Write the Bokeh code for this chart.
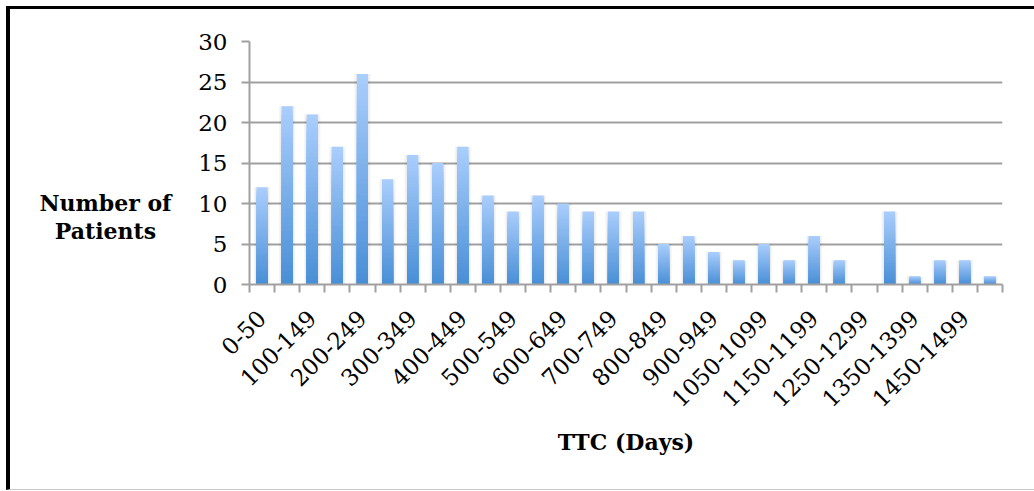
import math
from bokeh.plotting import figure
from bokeh.layouts import row
from bokeh.models import FixedTicker, ColumnDataSource
from bokeh.core.properties import value
from bokeh.embed import file_html
from bokeh.resources import INLINE

# ---- data ----
categories = ["0-50", "50-99", "100-149", "150-199", "200-249", "250-299",
              "300-349", "350-399", "400-449", "450-499", "500-549", "550-599",
              "600-649", "650-699", "700-749", "750-799", "800-849", "850-899",
              "900-949", "950-1049", "1050-1099", "1100-1149", "1150-1199",
              "1200-1249", "1250-1299", "1300-1349", "1350-1399", "1400-1449",
              "1450-1499", "1500+"]
patients = [12, 22, 21, 17, 26, 13, 16, 15, 17, 11, 9, 11, 10, 9, 9,
            9, 5, 6, 4, 3, 5, 3, 6, 3, 0, 9, 1, 3, 3, 1]
y_ticks = [0, 5, 10, 15, 20, 25, 30]
y_title = "Number of\nPatients"
x_title = "TTC (Days)"

n = len(categories)
centers = [i + 0.5 for i in range(n)]

# ---- style ----
SERIF = "DejaVu Serif"
GRID = "#a0a0a0"
TOP_RGB = (170, 206, 252)
BOT_RGB = (72, 142, 214)
BAR_W = 0.44
K = 40
H = 480
LEFT_W = 180
FRAME_TOP = 32
FRAME_BOTTOM = 275

# left panel holding the horizontal y title (its frame is aligned with p's)
lf = figure(width=LEFT_W, height=H, x_range=(0, 1), y_range=(0, 1),
            output_backend="svg", toolbar_location=None,
            x_axis_location=None, y_axis_location=None,
            min_border=0)
lf.outline_line_color = None
lf.xgrid.visible = False
lf.ygrid.visible = False
lf.text(x=[95 / LEFT_W], y=[(FRAME_BOTTOM - 207.5) / (FRAME_BOTTOM - FRAME_TOP)],
        text=[y_title],
        text_align="center", text_baseline="middle",
        text_font=value(SERIF), text_font_style="bold",
        text_font_size="22px", text_color="black", text_line_height=1.1)

p = figure(width=1024 - LEFT_W, height=H, x_range=(0, n), y_range=(0, 30),
           output_backend="svg", toolbar_location=None,
           min_border_left=239 - LEFT_W, min_border_right=32,
           min_border_top=FRAME_TOP, min_border_bottom=H - FRAME_BOTTOM)
p.outline_line_color = None
p.background_fill_color = "white"
p.border_fill_color = "white"

p.xgrid.visible = False
p.ygrid.grid_line_color = GRID
p.ygrid.grid_line_width = 2

# y axis
p.yaxis.ticker = FixedTicker(ticks=y_ticks)
p.yaxis.axis_line_color = GRID
p.yaxis.axis_line_width = 2
p.yaxis.major_tick_line_color = GRID
p.yaxis.major_tick_line_width = 2
p.yaxis.major_tick_out = 8
p.yaxis.major_tick_in = 0
p.yaxis.minor_tick_line_color = None
p.yaxis.major_label_text_font = SERIF
p.yaxis.major_label_text_font_size = "23px"
p.yaxis.major_label_text_color = "black"
p.yaxis.major_label_standoff = 14

# x axis: labels at centres of every other category, ticks at boundaries
label_pos = [centers[i] for i in range(0, n, 2)]
p.xaxis.ticker = FixedTicker(ticks=label_pos, minor_ticks=list(range(n + 1)))
p.xaxis.major_label_overrides = {centers[i]: categories[i] for i in range(0, n, 2)}
p.xaxis.major_tick_line_color = None
p.xaxis.major_tick_out = 0
p.xaxis.major_tick_in = 0
p.xaxis.minor_tick_line_color = GRID
p.xaxis.minor_tick_line_width = 2
p.xaxis.minor_tick_out = 8
p.xaxis.minor_tick_in = 0
p.xaxis.axis_line_color = GRID
p.xaxis.axis_line_width = 2
p.xaxis.major_label_orientation = math.pi / 4
p.xaxis.major_label_text_font = SERIF
p.xaxis.major_label_text_font_size = "23px"
p.xaxis.major_label_text_color = "black"
p.xaxis.major_label_standoff = 22
p.xaxis.axis_label = x_title
p.xaxis.axis_label_text_font = SERIF
p.xaxis.axis_label_text_font_style = "bold"
p.xaxis.axis_label_text_font_size = "22px"
p.xaxis.axis_label_text_color = "black"
p.xaxis.axis_label_standoff = 12

# soft shadow
p.vbar(x=centers, top=patients, bottom=0, width=BAR_W + 0.22,
       fill_color="black", fill_alpha=0.035, line_color=None)
p.vbar(x=centers, top=patients, bottom=0, width=BAR_W + 0.12,
       fill_color="black", fill_alpha=0.04, line_color=None)

# gradient bars: overlay progressively shorter, darker bars
xs, tops, cols = [], [], []
for j in range(K):
    frac = (K - j) / K
    t = (K - j - 0.5) / K
    r = round(BOT_RGB[0] + (TOP_RGB[0] - BOT_RGB[0]) * t)
    g = round(BOT_RGB[1] + (TOP_RGB[1] - BOT_RGB[1]) * t)
    b = round(BOT_RGB[2] + (TOP_RGB[2] - BOT_RGB[2]) * t)
    col = "#%02x%02x%02x" % (r, g, b)
    for c, v in zip(centers, patients):
        xs.append(c)
        tops.append(v * frac)
        cols.append(col)
src = ColumnDataSource(dict(x=xs, top=tops, color=cols))
p.vbar(x="x", top="top", bottom=0, width=BAR_W, fill_color="color",
       line_color=None, source=src)

layout = row(lf, p, spacing=0)
layout.styles = {"margin-left": "6px", "margin-top": "6px",
                 "border-top": "3px solid black",
                 "border-left": "4px solid black",
                 "border-bottom": "1px solid #c8c8c8"}

open("out.html", "w").write(file_html(layout, INLINE))
